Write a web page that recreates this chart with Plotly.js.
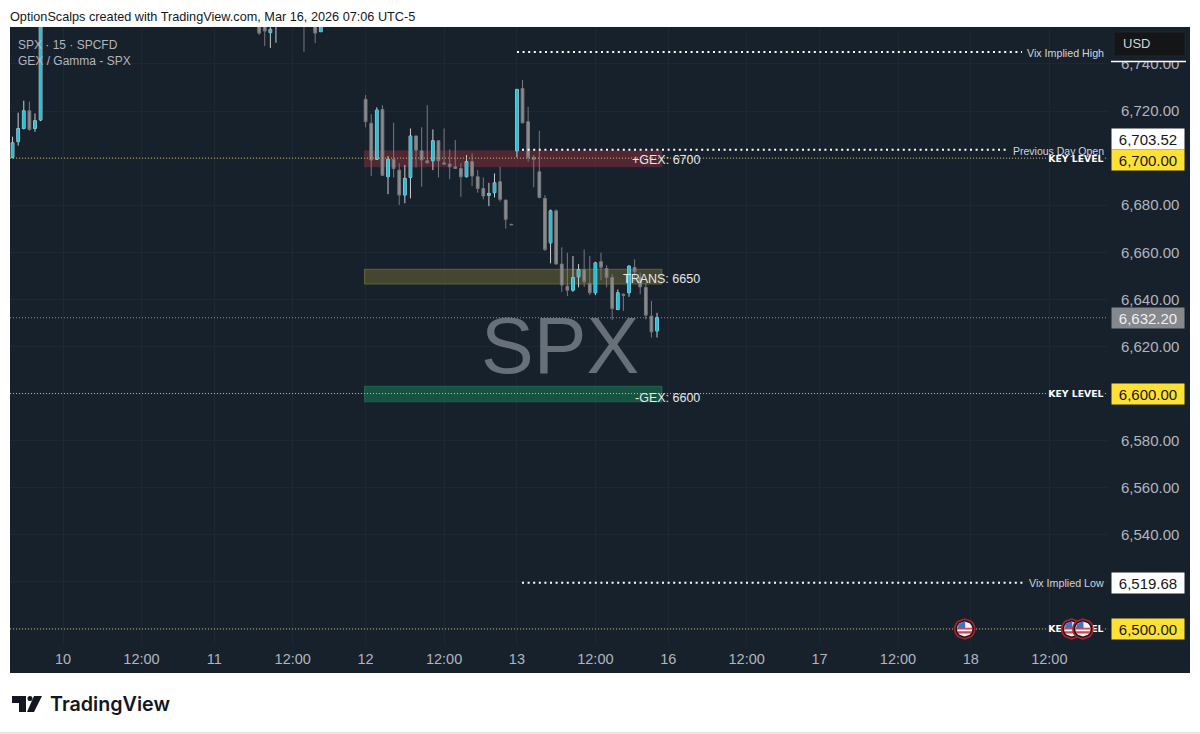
<!DOCTYPE html>
<html>
<head>
<meta charset="utf-8">
<script src="https://cdn.plot.ly/plotly-3.0.1.min.js"></script>
<style>
  html, body { margin: 0; padding: 0; background: #fff; }
  #chart { width: 1200px; height: 734px; }
</style>
</head>
<body>
<div id="chart"></div>
<script>
// 15 min bars, x is the bar number (27 bars a day, day 10 = bar 0)
const barIdx = [-9,-8,-7,-6,-5,-4,35,36,37,38,43,45,46,
  54,55,56,57,58,59,60,61,62,63,64,65,66,67,68,69,70,71,72,73,74,75,76,77,78,79,80,
  81,82,83,84,85,86,87,88,89,90,91,92,93,94,95,96,97,98,99,100,101,102,103,104,105,106];
const opens = [6700.3,6707.0,6712.6,6720.1,6712.6,6716.2,6760,6757,6753.3,6760,6765,6762,6753.7,
  6725.0,6714.8,6699.5,6720.7,6692.1,6699.5,6694.9,6684.3,6691.8,6709.4,6703.1,6698.9,6698.9,6707.4,6698.0,6697.5,6696.3,6695.6,6692.1,6698.5,6692.1,6687.1,6684.2,6685.3,6690.0,6682.2,6671.9,
  6703.1,6729.6,6715.5,6700.3,6694.2,6682.9,6664.0,6677.6,6655.0,6645.6,6643.9,6649.6,6652.7,6646.8,6642.8,6656.0,6653.1,6649.3,6635.7,6642.2,6642.8,6653.6,6649.3,6645.1,6632.9,6626.6];
const highs = [6709.1,6719.3,6724.4,6724.0,6719.0,6772,6762,6760,6757,6770,6770,6765,6760,
  6726.8,6718.6,6721.6,6722.5,6700.9,6715.0,6697.8,6697.1,6712.6,6709.6,6713.1,6722.5,6712.2,6707.7,6712.6,6703.7,6707.7,6697.8,6701.3,6702.0,6694.9,6691.8,6689.5,6693.5,6696.3,6682.2,6672.0,
  6729.2,6733.2,6721.8,6701.3,6711.6,6684.3,6678.2,6678.2,6662.1,6659.8,6658.4,6655.0,6661.2,6658.4,6656.0,6659.8,6654.6,6650.7,6644.2,6642.5,6654.6,6657.0,6651.3,6647.0,6639.4,6634.3];
const lows = [6699.9,6705.3,6712.2,6711.6,6711.2,6715.7,6752.3,6747.6,6746.8,6749,6745.2,6748.9,6753.6,
  6713.1,6692.4,6699.2,6692.4,6684.7,6691.8,6680.1,6680.8,6682.9,6696.1,6687.8,6697.8,6694.9,6691.8,6697.1,6691.0,6695.4,6683.6,6691.8,6688.1,6685.3,6682.5,6679.6,6683.3,6681.5,6670.1,6671.6,
  6700.3,6714.8,6698.5,6687.6,6682.9,6660.6,6655.3,6654.9,6643.2,6641.4,6643.2,6645.1,6645.3,6641.8,6641.8,6648.2,6645.1,6631.2,6635.4,6635.1,6641.1,6647.9,6642.2,6631.5,6623.8,6623.8];
const closes = [6706.5,6712.6,6720.1,6712.2,6715.9,6768,6753.1,6754,6754.7,6765,6762,6753.1,6758,
  6715.5,6699.2,6720.4,6692.7,6699.5,6695.6,6684.3,6691.4,6709.4,6703.4,6699.2,6698.0,6707.4,6698.9,6697.5,6696.3,6695.6,6692.1,6698.5,6692.4,6687.1,6683.9,6685.0,6689.5,6682.5,6674.0,6671.7,
  6729.2,6715.0,6700.3,6699.5,6683.3,6661.2,6677.6,6655.0,6646.1,6643.9,6649.3,6652.7,6647.5,6642.8,6655.5,6653.6,6649.3,6636.1,6642.8,6641.7,6654.1,6651.7,6645.3,6633.3,6626.2,6632.2];

const xTickVals = [0,14,27,41,54,68,81,95,108,122,135,149,162,176];
const xTickText = ['10','12:00','11','12:00','12','12:00','13','12:00','16','12:00','17','12:00','18','12:00'];
const priceTicks = [6740,6720,6700,6680,6660,6640,6620,6600,6580,6560,6540,6520,6500,6480];

const keyLevels = [6700,6600,6500];
const keyLabelY = [6699.4,6599.5,6499.6];
const lastPrice = 6632.20;
const vixHigh = 6745.07;
const vixLow = 6519.68;
const prevOpen = 6703.52;

const zoneNames = ['+GEX: 6700','TRANS: 6650','-GEX: 6600'];
const zoneLabelY = [6699.0,6648.5,6598.3];
const zoneLow = [6696.3,6646.5,6596.5];
const zoneHigh = [6703.1,6652.8,6603.1];
const zoneColors = ['rgba(140,45,60,0.5)','rgba(125,115,50,0.45)','rgba(25,125,85,0.55)'];
const zoneEdges = ['rgba(140,45,60,0.3)','rgba(150,140,60,0.5)','rgba(30,140,95,0.5)'];

const eventBars = [160.9,180,182];

// plot box in page pixels, the price scale sits to the right of it
const W = 1200, H = 734, L = 10, R = 1108, T = 27, B = 645;
const barPx = 5.604, x0Px = 63;
const xAt = px => (px - x0Px) / barPx;
const pxX = px => (px - L) / (R - L);
const pxY = py => (B - py) / (B - T);
const xMin = xAt(L), xMax = xAt(R);
const panel = '#17212c';

function levelLine(xs, y, color, dash, width) {
  return { x: xs, y: xs.map(v => v === null ? null : y), type: 'scatter', mode: 'lines',
    line: { color: color, dash: dash, width: width }, hoverinfo: 'skip', showlegend: false };
}

const traces = [
  { x: barIdx, open: opens, high: highs, low: lows, close: closes, type: 'candlestick',
    increasing: { line: { color: '#c9ccd0', width: 1 }, fillcolor: '#1fc3dc' },
    decreasing: { line: { color: '#77797d', width: 1 }, fillcolor: '#8b8c8e' },
    whiskerwidth: 0, showlegend: false, hoverinfo: 'skip' },
  // same bars again without outline so the cyan bodies stay solid under the light wicks
  { x: barIdx, open: opens, high: highs, low: lows, close: closes, type: 'candlestick',
    increasing: { line: { color: 'rgba(0,0,0,0)', width: 0 }, fillcolor: '#1fc3dc' },
    decreasing: { line: { color: 'rgba(0,0,0,0)', width: 0 }, fillcolor: 'rgba(0,0,0,0)' },
    whiskerwidth: 0, showlegend: false, hoverinfo: 'skip' },
  levelLine([xMin, xAt(1046), null, xAt(1105), xMax], keyLevels[0], '#c9bb55', '1px,2px', 1),
  levelLine([xMin, xAt(1046), null, xAt(1105), xMax], keyLevels[1], '#c9bb55', '1px,2px', 1),
  levelLine([xMin, xAt(1046), null, xAt(1105), xMax], keyLevels[2], '#c9bb55', '1px,2px', 1),
  levelLine([xMin, xMax], lastPrice, '#8d9298', '1px,2px', 1),
  levelLine([xAt(517), xAt(1022)], vixHigh, '#ffffff', '2px,3.6px', 2),
  levelLine([xAt(522), xAt(1025)], vixLow, '#ffffff', '2px,3.6px', 2),
  levelLine([xAt(522), xAt(1008)], prevOpen, '#ffffff', '2px,3.6px', 2),
  { x: keyLevels.map(() => xAt(1103.5)), y: keyLabelY, type: 'scatter', mode: 'text',
    text: keyLevels.map(() => '<b>KEY LEVEL</b>'), textposition: 'middle left',
    textfont: { family: 'DejaVu Sans, sans-serif', size: 9.3, color: '#ffffff' },
    hoverinfo: 'skip', showlegend: false }
];

const shapes = [
  { type: 'rect', xref: 'paper', yref: 'paper', layer: 'below', x0: pxX(L), x1: pxX(1190), y0: pxY(673), y1: pxY(T),
    fillcolor: panel, line: { width: 0 } },
  { type: 'line', xref: 'paper', yref: 'paper', x0: pxX(0), x1: pxX(W), y0: pxY(733), y1: pxY(733),
    line: { color: '#cfcfcf', width: 1 } },
  // off scale Vix tag under the USD button
  { type: 'rect', xref: 'paper', yref: 'paper', layer: 'above', x0: pxX(1109), x1: pxX(1190), y0: pxY(61), y1: pxY(T),
    fillcolor: panel, line: { width: 0 } },
  { type: 'line', xref: 'paper', yref: 'paper', layer: 'above', x0: pxX(1111), x1: pxX(1186), y0: pxY(61.5), y1: pxY(61.5),
    line: { color: '#ffffff', width: 1.5 } },
  { type: 'rect', xref: 'paper', yref: 'paper', layer: 'above', x0: pxX(1114), x1: pxX(1185), y0: pxY(56), y1: pxY(32),
    fillcolor: '#131517', line: { color: '#22262b', width: 1 } }
];

zoneLow.forEach((lo, i) => shapes.push({ type: 'rect', xref: 'x', yref: 'y', layer: 'between',
  x0: 54 - 0.2, x1: xAt(662), y0: lo, y1: zoneHigh[i], fillcolor: zoneColors[i], line: { color: zoneEdges[i], width: 1 } }));

// circle slice between two heights, used for the flag stripes
function slice(r, yA, yB) {
  const pts = [];
  for (let k = 0; k <= 8; k++) {
    const y = yA + (yB - yA) * k / 8;
    pts.push([Math.sqrt(Math.max(r * r - y * y, 0)), y]);
  }
  const right = pts.map(p => p[0] + ',' + p[1]);
  const left = pts.slice().reverse().map(p => (-p[0]) + ',' + p[1]);
  return 'M' + right.concat(left).join(' L') + ' Z';
}
function ring(r) { return slice(r, -r, r); }

eventBars.forEach(bar => {
  const base = { type: 'path', layer: 'above', xref: 'x', yref: 'y', xsizemode: 'pixel', ysizemode: 'pixel',
    xanchor: bar, yanchor: keyLevels[2] };
  shapes.push(Object.assign({}, base, { path: ring(10), fillcolor: '#141a21', line: { color: '#b3202f', width: 1.6 } }));
  shapes.push(Object.assign({}, base, { path: ring(7.6), fillcolor: '#f3f3f5', line: { width: 0 } }));
  shapes.push(Object.assign({}, base, { path: slice(7.6, -4.5, -2.2), fillcolor: '#d9434f', line: { width: 0 } }));
  shapes.push(Object.assign({}, base, { path: slice(7.6, -0.6, 1.2), fillcolor: '#d9434f', line: { width: 0 } }));
  shapes.push(Object.assign({}, base, { path: 'M-7,0.8 L0.5,0.8 L0.5,7.5 L-3,6.8 L-6,4.5 Z', fillcolor: '#4a6fc0', line: { width: 0 } }));
});

// TradingView mark
[ 'M12,696 H26 V712 H19 V703 H12 Z', 'M34,712 L42,696 H34 L27,712 Z' ].forEach(p => {
  const d = p.replace(/(\d+),(\d+)/g, (m, a, b) => pxX(+a) + ',' + pxY(+b))
    .replace(/H(\d+)/g, (m, a) => 'H' + pxX(+a)).replace(/V(\d+)/g, (m, a) => 'V' + pxY(+a));
  shapes.push({ type: 'path', xref: 'paper', yref: 'paper', path: d, fillcolor: '#131722', line: { width: 0 } });
});
shapes.push({ type: 'circle', xref: 'paper', yref: 'paper', x0: pxX(27.5), x1: pxX(32.5), y0: pxY(701), y1: pxY(696),
  fillcolor: '#131722', line: { width: 0 } });

function tag(y, text, bg, fg, shift) {
  return { xref: 'paper', yref: 'y', x: pxX(1111), y: y, xanchor: 'left', yanchor: 'middle', yshift: shift || 0,
    text: text, showarrow: false, align: 'center', width: 67, height: 15, bgcolor: bg, borderpad: 2.5,
    font: { family: 'Liberation Sans, sans-serif', size: 15, color: fg } };
}
function pageText(x, y, text, size, color, anchor, family, weight) {
  return { xref: 'paper', yref: 'paper', x: pxX(x), y: pxY(y), xanchor: anchor || 'left', yanchor: 'middle',
    text: text, showarrow: false, borderpad: 0, borderwidth: 0,
    font: { family: family || 'Liberation Sans, sans-serif', size: size, color: color, weight: weight || 400 } };
}

const annotations = [
  pageText(10, 17, 'OptionScalps created with TradingView.com, Mar 16, 2026 07:06 UTC-5', 12.7, '#131722'),
  pageText(18, 45, 'SPX · 15 · SPCFD', 12, '#b2b5be'),
  pageText(18, 61, 'GEX / Gamma - SPX', 12, '#b2b5be'),
  pageText(1123, 44, 'USD', 13, '#d1d4dc'),
  pageText(1103.5, 53, 'Vix Implied High', 10.7, '#d1d4dc', 'right'),
  pageText(1103.5, 583, 'Vix Implied Low', 10.7, '#d1d4dc', 'right'),
  pageText(1103.5, 151, 'Previous Day Open', 10.5, '#d1d4dc', 'right'),
  pageText(50, 704, 'TradingView', 19.7, '#131722', 'left', 'Inter, sans-serif', 600),
  { xref: 'paper', yref: 'paper', x: pxX(560), y: pxY(345), xanchor: 'center', yanchor: 'middle', text: 'SPX',
    showarrow: false, font: { family: 'Liberation Sans, sans-serif', size: 79, color: 'rgba(135,142,150,0.72)' } },
  tag(prevOpen, '6,703.52', '#ffffff', '#131722', 10.5),
  tag(keyLevels[0], '6,700.00', '#ffe135', '#131722', -1.7),
  tag(lastPrice, '6,632.20', '#85888c', '#f0f0f0'),
  tag(keyLevels[1], '6,600.00', '#ffe135', '#131722'),
  tag(vixLow, '6,519.68', '#ffffff', '#131722'),
  tag(keyLevels[2], '6,500.00', '#ffe135', '#131722')
];
zoneNames.forEach((name, i) => annotations.push({ xref: 'x', yref: 'y', x: xAt(700), y: zoneLabelY[i],
  xanchor: 'right', yanchor: 'middle', text: name, showarrow: false, borderpad: 0, borderwidth: 0,
  font: { family: 'Liberation Sans, sans-serif', size: 12.5, color: '#e6e8ea' } }));

const layout = {
  width: W, height: H,
  margin: { l: L, r: W - R, t: T, b: H - B, pad: 0 },
  paper_bgcolor: '#ffffff', plot_bgcolor: panel,
  showlegend: false,
  xaxis: { range: [xMin, xMax], type: 'linear', rangeslider: { visible: false }, tickmode: 'array',
    tickvals: xTickVals, ticktext: xTickText, ticks: '', ticklabelstandoff: 3, showgrid: true,
    gridcolor: '#1e2833', gridwidth: 1, zeroline: false, showline: false,
    tickfont: { family: 'Liberation Sans, sans-serif', size: 14.5, color: '#b2b5be' } },
  yaxis: { side: 'right', range: [6500 - (B - 629) / 2.353, 6720 + (111 - T) / 2.353], tickmode: 'array',
    tickvals: priceTicks, ticktext: priceTicks.map(v => v.toLocaleString('en-US') + '.00'), ticks: '',
    ticklabelstandoff: 12, showgrid: true, gridcolor: '#1e2833', gridwidth: 1, zeroline: false, showline: false,
    tickfont: { family: 'Liberation Sans, sans-serif', size: 15, color: '#b2b5be' } },
  shapes: shapes,
  annotations: annotations
};

Plotly.newPlot('chart', traces, layout, { displayModeBar: false, staticPlot: true });
</script>
</body>
</html>
